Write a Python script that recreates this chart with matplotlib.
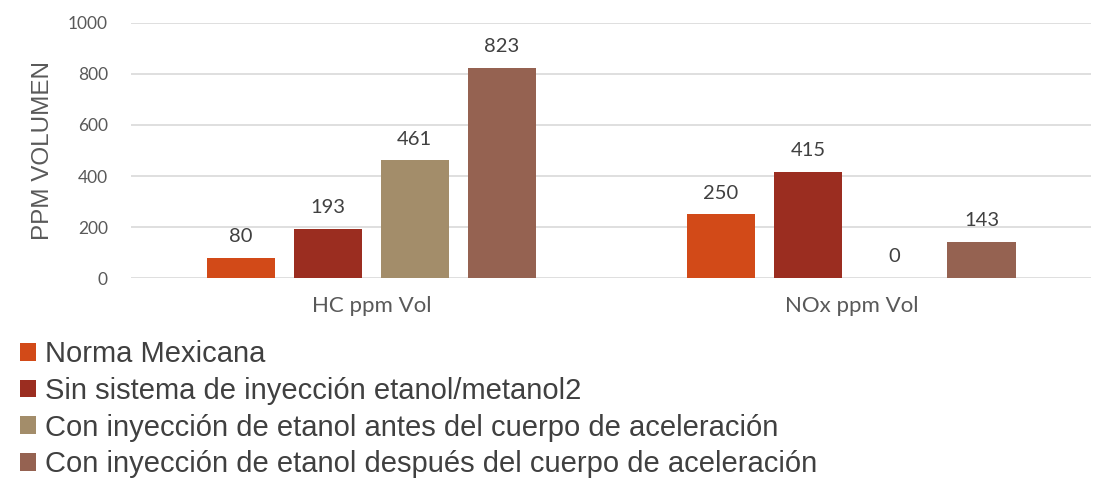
import matplotlib
matplotlib.use("Agg")
import matplotlib.pyplot as plt
import numpy as np

categories = ["HC ppm Vol", "NOx ppm Vol"]
series_names = [
    "Norma Mexicana",
    "Sin sistema de inyección etanol/metanol2",
    "Con inyección de etanol antes del cuerpo de aceleración",
    "Con inyección de etanol después del cuerpo de aceleración",
]
series_values = [
    [80, 250],
    [193, 415],
    [461, 0],
    [823, 143],
]
colors = ["#D24A18", "#9B2D20", "#A38D6A", "#956251"]
yticks = [0, 200, 400, 600, 800, 1000]

fig = plt.figure(figsize=(11, 4.79), dpi=100)
ax = fig.add_axes([0.1195, 0.4196, 0.8725, 0.5324])

x = np.arange(len(categories))
step = 0.181
width = 0.142
n = len(series_values)
handles = []
for i, (vals, c) in enumerate(zip(series_values, colors)):
    pos = x + (i - (n - 1) / 2) * step
    bars = ax.bar(pos, vals, width=width, color=c, zorder=3, label=series_names[i])
    handles.append(bars)
    for p, v in zip(pos, vals):
        ax.text(p, v + 50, f"{v}", ha="center", va="bottom",
                fontsize=14.5, color="#404040", family="Lato")

ax.set_xlim(-0.5, 1.5)
ax.set_ylim(0, 1000)
ax.set_yticks(yticks)
ax.set_yticklabels([str(t) for t in yticks], fontsize=12.5, color="#595959", family="Lato")
ax.set_xticks(x)
ax.set_xticklabels(categories, fontsize=16, color="#595959", family="Lato")
ax.tick_params(axis="both", length=0)
ax.tick_params(axis="y", pad=17)
ax.tick_params(axis="x", pad=13)
ax.yaxis.grid(True, color="#D9D9D9", linewidth=1.2, zorder=0)
for s in ax.spines.values():
    s.set_visible(False)
ax.set_ylabel("PPM VOLUMEN", fontsize=17.5, color="#595959", family="Liberation Sans", labelpad=10)

leg = fig.legend(handles=handles, labels=series_names, loc="upper left",
                 bbox_to_anchor=(0.018, 0.29), frameon=False,
                 prop={"family": "Liberation Sans", "size": 21},
                 handlelength=0.55, handleheight=0.55, handletextpad=0.3,
                 labelspacing=0.3, borderpad=0, borderaxespad=0)
for t in leg.get_texts():
    t.set_color("#404040")

fig.savefig("out.png", dpi=100)
